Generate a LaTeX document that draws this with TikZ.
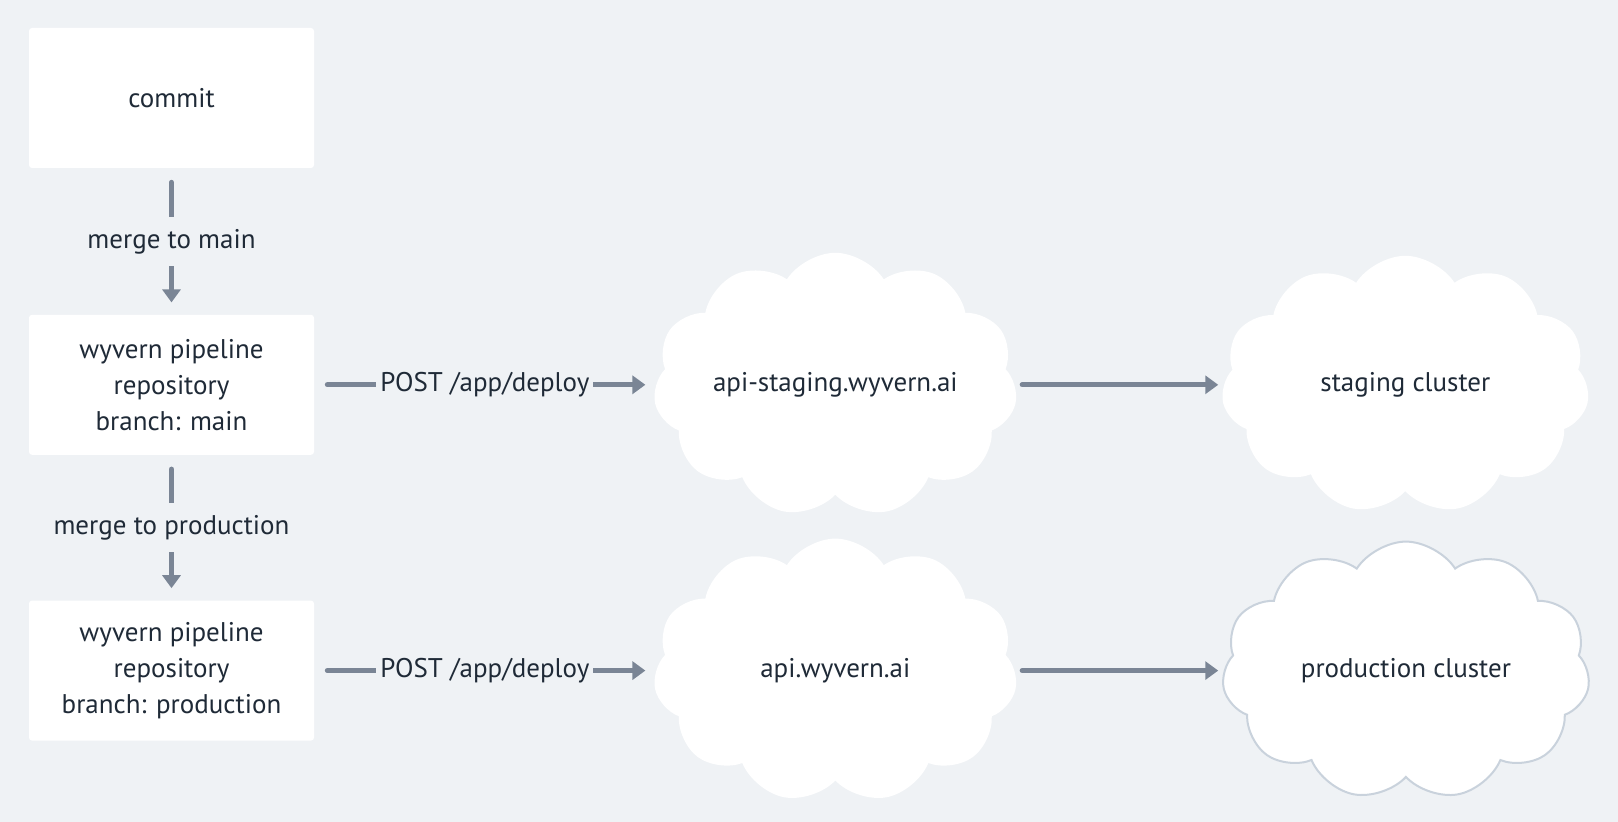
\documentclass[tikz,border=0pt]{standalone}
\usepackage{fontspec}
\setmainfont{PT Sans}
\usepackage{xcolor}
\usepackage{tikz}
\usetikzlibrary{shapes.symbols, arrows.meta, positioning}

\definecolor{bgcol}{HTML}{EFF2F5}
\definecolor{inkcol}{HTML}{1F2A37}
\definecolor{arrowcol}{HTML}{7A8595}
\definecolor{edgecol}{HTML}{C9D2DC}

\begin{document}
\begin{tikzpicture}[x=0.5pt, y=-0.5pt,
    repobox/.style={rectangle, fill=white, rounded corners=1.5pt, minimum width=142.5pt, minimum height=70pt, align=center, text=inkcol, font=\fontsize{13.5}{18}\selectfont},
    apicloud/.style={cloud, cloud puffs=11, cloud puff arc=115, aspect=1.4, fill=white, minimum width=182pt, minimum height=132pt, label={[text=inkcol, font=\fontsize{13.5}{18}\selectfont]center:#1}},
    clustercloud/.style={apicloud=#1, minimum width=184pt, minimum height=129pt},
    arrow/.style={-{Triangle[length=6.5pt,width=9pt]}, line width=2.6pt, line cap=round, draw=arrowcol, shorten <=7pt, shorten >=6pt},
    edgelabel/.style={fill=bgcol, text=inkcol, font=\fontsize{13.5}{18}\selectfont, inner xsep=2pt, inner ysep=6pt}
]
\useasboundingbox[fill=bgcol] (0,0) rectangle (1618,822);

\node[repobox] (commit) at (171.5,98) {commit};
\node[repobox, below=73pt of commit] (repomain) {wyvern pipeline\\repository\\branch: main};
\node[repobox, below=72.5pt of repomain] (repoprod) {wyvern pipeline\\repository\\branch: production};

\node[apicloud=api-staging.wyvern.ai, right=170.5pt of repomain] (apistaging) {};
\node[clustercloud=staging cluster, right=104pt of apistaging] (stagecluster) {};

\node[apicloud=api.wyvern.ai, right=170.5pt of repoprod] (apiprod) {};
\node[clustercloud=production cluster, draw=edgecol, line width=1pt, right=104pt of apiprod] (prodcluster) {};

\draw[arrow] (commit) -- node[edgelabel] {merge to main} (repomain);
\draw[arrow] (repomain) -- node[edgelabel] {merge to production} (repoprod);

\draw[arrow, shorten <=6.5pt, shorten >=5pt] (repomain) -- node[edgelabel] {POST /app/deploy} (apistaging);
\draw[arrow, shorten <=6.5pt, shorten >=5pt] (repoprod) -- node[edgelabel] {POST /app/deploy} (apiprod);

\draw[arrow, shorten <=3.5pt, shorten >=2.5pt] (apistaging) -- (stagecluster);
\draw[arrow, shorten <=3.5pt, shorten >=2.5pt] (apiprod) -- (prodcluster);

\end{tikzpicture}
\end{document}
